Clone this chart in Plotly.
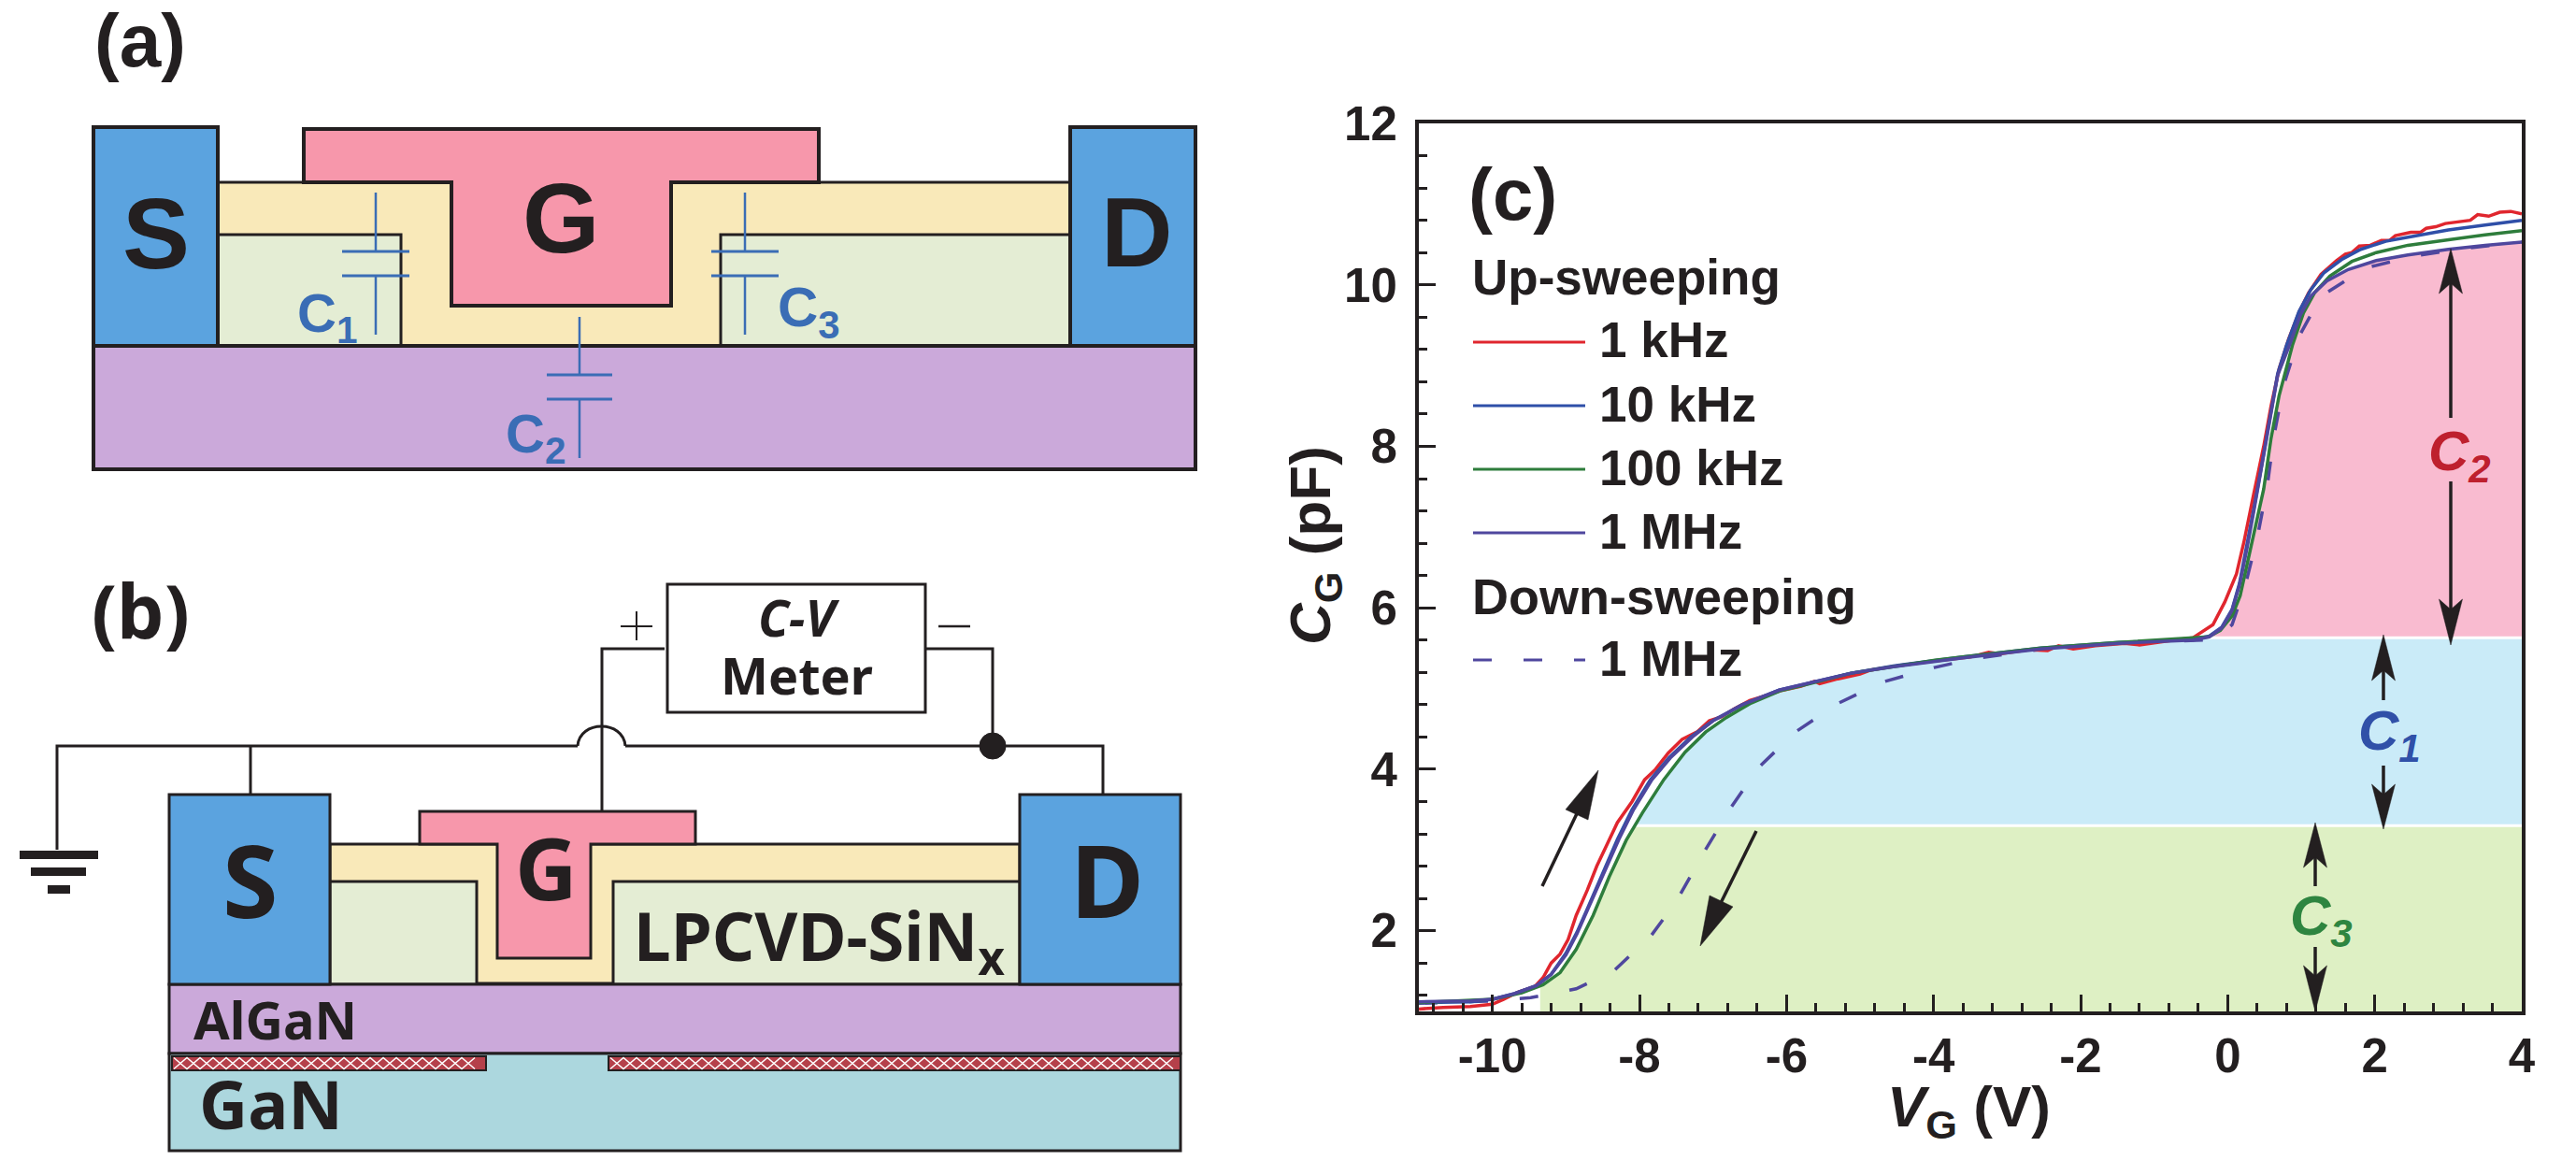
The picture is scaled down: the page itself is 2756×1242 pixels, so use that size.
import plotly.graph_objects as go
import numpy as np

W, H = 2756, 1242

# ---------- data ----------
vg_red = [-11,-10.67,-10.3,-10,-9.85,-9.65,-9.42,-9.31,-9.2,-9.08,-8.97,-8.86,-8.71,-8.58,-8.44,-8.3,-8.1,-7.93,-7.78,-7.61,-7.42,-7.22,-7.05,-6.88,-6.71,-6.5,-6.25,-6.09,-5.8,-5.62,-5.55,-5.3,-5.0,-4.85,-4.5,-4.2,-4.0,-3.5,-3.25,-3.1,-2.7,-2.45,-2.3,-2.1,-1.8,-1.4,-1.2,-0.8,-0.47,-0.2,-0.04,0.12,0.22,0.35,0.49,0.59,0.7,0.83,0.97,1.1,1.27,1.48,1.6,1.69,1.79,1.94,2.09,2.2,2.28,2.49,2.62,2.7,2.83,2.96,3.3,3.4,3.55,3.7,3.85,4]
cg_red = [1.03,1.05,1.06,1.09,1.15,1.24,1.31,1.42,1.6,1.71,1.89,2.19,2.5,2.8,3.07,3.34,3.6,3.87,4.0,4.2,4.37,4.46,4.6,4.65,4.75,4.85,4.92,4.97,5.03,5.09,5.06,5.12,5.18,5.23,5.28,5.32,5.34,5.39,5.45,5.43,5.48,5.47,5.53,5.49,5.53,5.56,5.54,5.59,5.63,5.79,6.07,6.42,6.81,7.39,8.0,8.5,8.96,9.33,9.66,9.9,10.13,10.3,10.38,10.4,10.48,10.49,10.55,10.55,10.61,10.65,10.65,10.7,10.72,10.76,10.8,10.87,10.85,10.9,10.91,10.88]

vg_10k = [-11,-10.3,-10,-9.7,-9.4,-9.2,-9.0,-8.85,-8.7,-8.52,-8.3,-8.1,-7.85,-7.6,-7.3,-7.0,-6.6,-6.1,-5.68,-5.12,-4.55,-3.98,-3.6,-2.54,-1.48,-0.47,-0.25,-0.08,0.06,0.16,0.26,0.36,0.47,0.58,0.68,0.8,0.97,1.13,1.31,1.56,1.81,2.15,2.57,3.0,3.5,4]
cg_10k = [1.11,1.12,1.15,1.22,1.32,1.46,1.72,1.98,2.29,2.67,3.13,3.5,3.87,4.14,4.4,4.6,4.8,4.98,5.07,5.19,5.28,5.35,5.39,5.5,5.57,5.61,5.65,5.76,5.98,6.3,6.75,7.25,7.8,8.4,8.9,9.25,9.67,9.94,10.15,10.32,10.44,10.54,10.61,10.68,10.74,10.8]

vg_100k = [-11,-10,-9.6,-9.31,-9.08,-8.86,-8.63,-8.41,-8.18,-7.96,-7.67,-7.38,-7.1,-6.82,-6.48,-6.09,-5.68,-5.12,-4.55,-3.98,-3.6,-2.54,-1.48,-0.47,-0.26,-0.1,0.06,0.17,0.27,0.38,0.49,0.59,0.7,0.88,1.03,1.18,1.39,1.69,2.02,2.45,3.0,3.5,4]
cg_100k = [1.11,1.15,1.23,1.33,1.48,1.77,2.19,2.67,3.12,3.46,3.87,4.21,4.46,4.64,4.82,4.97,5.06,5.19,5.27,5.35,5.39,5.5,5.57,5.62,5.64,5.72,5.9,6.15,6.57,7.02,7.47,8.1,8.63,9.25,9.65,9.9,10.11,10.29,10.4,10.49,10.56,10.62,10.67]

vg_1M = [-11,-10.3,-10,-9.7,-9.4,-9.2,-9.0,-8.85,-8.7,-8.5,-8.28,-8.08,-7.83,-7.58,-7.28,-7.0,-6.6,-6.1,-5.68,-5.12,-4.55,-3.98,-3.6,-2.54,-1.48,-0.47,-0.25,-0.08,0.06,0.16,0.26,0.36,0.47,0.58,0.68,0.84,0.99,1.13,1.35,1.64,2.02,2.45,3.0,3.5,4]
cg_1M = [1.12,1.13,1.15,1.22,1.32,1.46,1.7,1.96,2.27,2.67,3.13,3.5,3.87,4.14,4.4,4.6,4.8,4.98,5.07,5.19,5.27,5.34,5.38,5.49,5.56,5.6,5.64,5.75,5.97,6.28,6.72,7.22,7.78,8.38,8.88,9.25,9.63,9.86,10.05,10.19,10.3,10.37,10.44,10.49,10.53]

vg_down = [-11,-10,-9.48,-8.86,-8.35,-7.84,-7.5,-7.13,-6.76,-6.37,-5.88,-5.29,-4.69,-3.99,-3.45,-2.5,-1.5,-0.3,-0.1,0.06,0.24,0.41,0.54,0.63,0.76,0.97,1.27,1.88,2.55,3.2,4]
cg_down = [1.1,1.13,1.17,1.28,1.5,1.94,2.36,2.96,3.52,4.03,4.46,4.82,5.08,5.26,5.37,5.49,5.56,5.6,5.66,5.79,6.28,6.9,7.52,8.13,8.75,9.36,9.86,10.21,10.36,10.45,10.53]

# lower edge of the coloured regions
edge_v = [-9.35,-9.31,-9.08,-8.86,-8.63,-8.41,-8.18,-7.96,-7.67,-7.38,-7.1,-6.82,-6.48,-6.09,-5.68,-5.12,-4.55,-3.98,-3.6,-2.54,-1.48,-0.47,-0.26,-0.1,0.06,0.17,0.27,0.38,0.49,0.59,0.7,0.88,1.03,1.18,1.39,1.64,2.02,2.45,3.0,3.5,4]
edge_c = [1.3,1.33,1.48,1.77,2.19,2.67,3.12,3.46,3.87,4.21,4.46,4.64,4.82,4.97,5.06,5.19,5.27,5.35,5.39,5.5,5.57,5.62,5.64,5.72,5.9,6.15,6.57,7.02,7.47,8.1,8.63,9.25,9.62,9.9,10.08,10.19,10.3,10.37,10.44,10.49,10.53]
c3_level = 3.3
c1_level = 5.63

x_ticks = [-10,-8,-6,-4,-2,0,2,4]
x_labels = ["-10","-8","-6","-4","-2","0","2","4"]
y_ticks = [2,4,6,8,10,12]
y_labels = ["2","4","6","8","10","12"]

RED, BLUE, GREEN, PURPLE = "#E0262E", "#2F4FA8", "#2E7D3C", "#4F479E"
INK = "#231F20"

def X(p): return p / W
def Y(p): return 1 - p / H

shapes, notes = [], []

def rect(x0, y0, x1, y1, fill, lw=3, line=INK):
    shapes.append(dict(type="rect", xref="paper", yref="paper", x0=X(x0), x1=X(x1), y0=Y(y0), y1=Y(y1),
                       fillcolor=fill, line=dict(color=line, width=lw)))

def poly(pts, fill=None, lw=3, line=INK, close=True, dash=None):
    d = "M " + " L ".join(f"{X(a):.5f},{Y(b):.5f}" for a, b in pts) + (" Z" if close else "")
    ln = dict(color=line, width=lw)
    if dash:
        ln["dash"] = dash
    s = dict(type="path", xref="paper", yref="paper", path=d, line=ln)
    if fill:
        s["fillcolor"] = fill
    shapes.append(s)

def wire(pts, lw=3, line=INK, dash=None):
    poly(pts, None, lw, line, close=False, dash=dash)

def text(s, x, y, size, color=INK, family="Liberation Sans", bold=True, italic=False, anchor="center", angle=0):
    notes.append(dict(text=s, xref="paper", yref="paper", x=X(x), y=Y(y), xanchor=anchor, yanchor="middle",
                      showarrow=False, align="center", textangle=angle,
                      font=dict(size=size, color=color, family=family, weight=700 if bold else 400,
                                style="italic" if italic else "normal")))

SRC, GATE, DIEL, SIN, ALG, GAN = "#5BA3DF", "#F797AB", "#F9E9B9", "#E4EDD4", "#CBA9DA", "#ACD7DE"
CAP = "#3A6DB5"

# ---------- panel (a) ----------
text("(a)", 150, 43, 80)
rect(233, 195, 1145, 370, DIEL)
rect(233, 251, 429, 370, SIN)
rect(771, 251, 1145, 370, SIN)
rect(100, 370, 1279, 502, ALG, 4)
rect(100, 136, 233, 370, SRC, 4)
rect(1145, 136, 1279, 370, SRC, 4)
poly([(325,138),(876,138),(876,195),(718,195),(718,327),(483,327),(483,195),(325,195)], GATE, 4)
text("S", 167, 249, 108)
text("G", 600, 233, 106)
text("D", 1216, 248, 106)
for cx, top, p1, p2, bot, hw in [(402,206,269,295,358,36),(797,206,269,295,358,36),(620,339,401,427,490,35)]:
    wire([(cx,top),(cx,p1)], 2.5, CAP); wire([(cx,p2),(cx,bot)], 2.5, CAP)
    wire([(cx-hw,p1),(cx+hw,p1)], 3, CAP); wire([(cx-hw,p2),(cx+hw,p2)], 3, CAP)
text("C<sub>1</sub>", 350, 339, 58, CAP)
text("C<sub>3</sub>", 866, 333, 60, CAP)
text("C<sub>2</sub>", 573, 468, 58, CAP)

# ---------- panel (b) ----------
NS = "Noto Sans"
text("(b)", 150, 652, 80, family=NS)
rect(353, 903, 1091, 1052, DIEL)
rect(353, 943, 510, 1053, SIN)
rect(656, 943, 1091, 1053, SIN)
rect(181, 1053, 1263, 1127, ALG, 3)
rect(181, 1127, 1263, 1231, GAN, 3)
rect(181, 850, 353, 1053, SRC, 3)
rect(1091, 850, 1263, 1053, SRC, 3)
poly([(449,868),(744,868),(744,903),(632,903),(632,1025),(532,1025),(532,903),(449,903)], GATE, 3)
for a, b in [(184, 520), (651, 1263)]:
    rect(a, 1130, b, 1145, "#B5404A", 2)
    for phase in (True, False):
        zig = []
        k, up = a + 2, phase
        while k <= b - 2:
            zig.append((k, 1131.5 if up else 1143.5)); k += 14; up = not up
        wire(zig, 1.5, "#FFFFFF")
rect(714, 625, 990, 762, "#FFFFFF", 3)
wire([(61,909),(61,798),(618,798)])
shapes.append(dict(type="path", xref="paper", yref="paper",
                   path=f"M {X(618):.5f},{Y(798):.5f} C {X(620):.5f},{Y(770):.5f} {X(667):.5f},{Y(770):.5f} {X(669):.5f},{Y(798):.5f}",
                   line=dict(color=INK, width=3)))
wire([(669,798),(1180,798),(1180,850)])
wire([(268,798),(268,850)])
wire([(644,868),(644,694),(711,694)])
wire([(990,694),(1062,694),(1062,798)])
shapes.append(dict(type="circle", xref="paper", yref="paper", x0=X(1048), x1=X(1076), y0=Y(784), y1=Y(812),
                   fillcolor=INK, line=dict(color=INK, width=1)))
rect(21, 910, 105, 919, INK, 0)
rect(33, 928, 92, 937, INK, 0)
rect(51, 947, 75, 956, INK, 0)
wire([(664,670),(698,670)], 2)
wire([(681,654),(681,685)], 2)
wire([(1004,670),(1038,670)], 2.5)
text("C-V", 855, 660, 54, family=NS, italic=True)
text("Meter", 853, 722, 54, family=NS)
text("S", 268, 940, 108, family=NS)
text("D", 1184, 940, 108, family=NS)
text("G", 584, 927, 92, family=NS)
text("LPCVD-SiN<sub>x</sub>", 876, 1005, 71, family=NS)
text("AlGaN", 294, 1090, 56, family=NS)
text("GaN", 290, 1180, 72, family=NS)

# ---------- panel (c) annotations ----------
text("(c)", 1618, 208, 78)
text("C<sub>2</sub>", 2631, 487, 60, "#BE202E", italic=True)
text("C<sub>1</sub>", 2556, 786, 60, "#3050A8", italic=True)
text("C<sub>3</sub>", 2483, 984, 60, "#2E8540", italic=True)
text("<i>V</i><sub>G</sub> (V)", 2106, 1188, 62)
text("<i>C</i><sub>G</sub> (pF)", 1406, 584, 62, angle=-90)

# hand-built key, as in the original figure
key_x_line = (1576, 1696)
text("Up-sweeping", 1573, 297, 53, anchor="left")
text("Down-sweeping", 1573, 638, 54, anchor="left")
for label, yy, col, dash in [("1 kHz", 366, RED, None), ("10 kHz", 434, BLUE, None), ("100 kHz", 502, GREEN, None),
                             ("1 MHz", 570, PURPLE, None), ("1 MHz", 706, PURPLE, "20px,34px")]:
    wire([(key_x_line[0], yy), (key_x_line[1], yy)], 3, col, dash)
    text(label, 1709, yy - 2, 53, anchor="left")

def vert_arrow(x, tip, base, notch, tail, hw=12.5):
    wire([(x, notch), (x, tail)], 3.5)
    poly([(x, tip), (x + hw, base), (x, notch), (x - hw, base)], INK, 0.5)

vert_arrow(2622, 266, 314, 303, 447)
vert_arrow(2622, 690, 641, 652, 515)
vert_arrow(2550, 679, 728, 717, 749)
vert_arrow(2550, 887, 839, 850, 819)
vert_arrow(2477, 880, 928, 917, 948)
vert_arrow(2477, 1082, 1033, 1044, 1013)
wire([(1650, 948), (1692, 860)], 3.5)
poly([(1710, 824), (1675, 866), (1699, 877)], INK, 0.5)
wire([(1879, 889), (1840, 968)], 3.5)
poly([(1819, 1012), (1829, 958), (1854, 970)], INK, 0.5)

AX_L, AX_R, AX_B, AX_T = 1518, 2698, 1082, 132

# ---------- figure ----------
fig = go.Figure()

ev, ec = np.array(edge_v, float), np.array(edge_c, float)

def cross(level):
    return float(np.interp(level, ec, ev))

def band(lo, hi, color):
    if lo is None:
        m = ec <= hi
        xs = [ev[0]] + list(ev[m]) + [cross(hi), 4, 4, ev[0]]
        ys = [1] + list(ec[m]) + [hi, hi, 1, 1]
    elif hi is None:
        m = ec >= lo
        xs = [cross(lo)] + list(ev[m]) + [4, cross(lo)]
        ys = [lo] + list(ec[m]) + [lo, lo]
    else:
        m = (ec >= lo) & (ec <= hi)
        xs = [cross(lo)] + list(ev[m]) + [cross(hi), 4, 4, cross(lo)]
        ys = [lo] + list(ec[m]) + [hi, hi, lo, lo]
    fig.add_trace(go.Scatter(x=xs, y=ys, mode="lines", fill="toself", fillcolor=color,
                             line=dict(width=0, color=color), showlegend=False, hoverinfo="skip"))

band(None, c3_level, "#DEF0C4")
band(c3_level, c1_level, "#CAEBF8")
band(c1_level, None, "#F9BBD0")
for lv in (c3_level, c1_level):
    fig.add_trace(go.Scatter(x=[cross(lv), 4], y=[lv, lv], mode="lines", line=dict(color="#FFFFFF", width=3),
                             showlegend=False, hoverinfo="skip"))

curves = [("1 kHz", vg_red, cg_red, RED), ("10 kHz", vg_10k, cg_10k, BLUE),
          ("100 kHz", vg_100k, cg_100k, GREEN), ("1 MHz", vg_1M, cg_1M, PURPLE)]
fig.add_trace(go.Scatter(x=vg_down, y=cg_down, mode="lines", name="1 MHz (down)", showlegend=False,
                         line=dict(color=PURPLE, width=3.5, dash="20px,34px")))
for name, vx, cy, col in curves:
    fig.add_trace(go.Scatter(x=vx, y=cy, mode="lines", name=name, showlegend=False,
                             line=dict(color=col, width=3.5)))

tf = dict(family="Liberation Sans", size=51, color=INK, weight=700)
fig.update_layout(
    width=W, height=H, margin=dict(l=0, r=0, t=0, b=0), paper_bgcolor="white", plot_bgcolor="white",
    showlegend=False, shapes=shapes, annotations=notes,
    font=dict(family="Liberation Sans", color=INK),
    xaxis=dict(domain=[X(AX_L), X(AX_R)], range=[-11, 4], tickmode="array", tickvals=x_ticks, ticktext=x_labels,
               ticks="inside", ticklen=18, tickwidth=3, tickcolor=INK, tickfont=tf, ticklabelstandoff=0,
               minor=dict(dtick=0.4, tick0=-10, ticks="inside", ticklen=9, tickwidth=3, tickcolor=INK),
               showline=True, linewidth=4, linecolor=INK, mirror=True, showgrid=False, zeroline=False,
               automargin=False, layer="above traces"),
    yaxis=dict(domain=[Y(AX_B), Y(AX_T)], range=[1, 12], tickmode="array", tickvals=y_ticks, ticktext=y_labels,
               ticks="inside", ticklen=18, tickwidth=3, tickcolor=INK, tickfont=tf, ticklabelstandoff=9,
               minor=dict(dtick=0.4, tick0=2, ticks="inside", ticklen=9, tickwidth=3, tickcolor=INK),
               showline=True, linewidth=4, linecolor=INK, mirror=True, showgrid=False, zeroline=False,
               automargin=False, layer="above traces"),
)

fig.write_html("out.html", config={"displayModeBar": False},
               post_script="document.body.style.margin='0';document.documentElement.style.overflow='hidden';")
